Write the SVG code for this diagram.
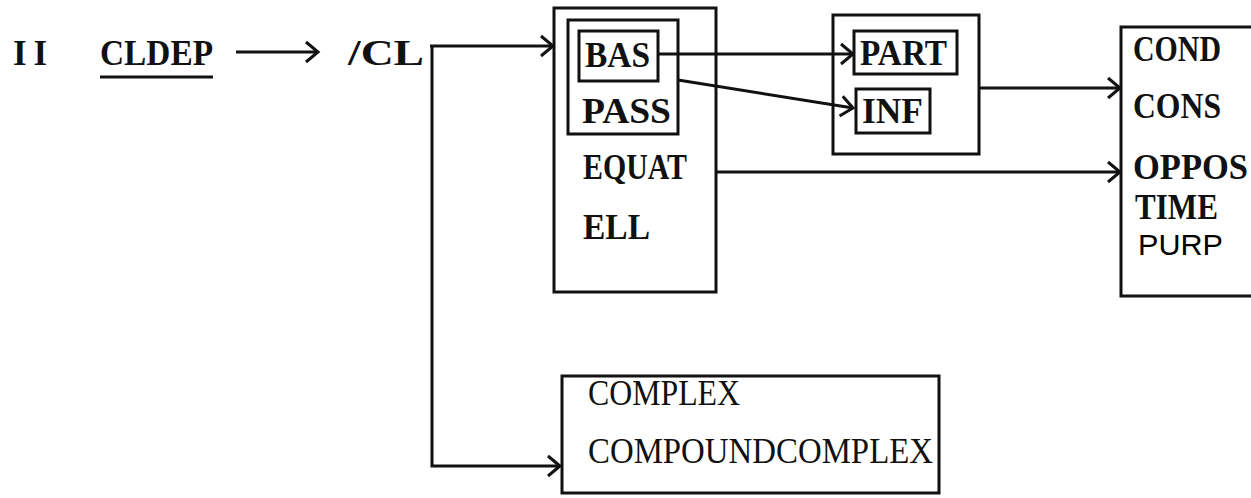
<svg xmlns="http://www.w3.org/2000/svg" width="1251" height="498" viewBox="0 0 1251 498">
<style>
.t{font-family:"Liberation Serif","Times New Roman",serif;font-size:35px;font-weight:bold;fill:#111}
.n{font-weight:normal}
.s{font-family:"Liberation Sans",Arial,sans-serif;font-size:29px;font-weight:normal}
.b{fill:none;stroke:#111;stroke-width:3}
.c{fill:none;stroke:#111;stroke-width:3}
</style>
<defs>
<marker id="ah" markerUnits="userSpaceOnUse" markerWidth="20" markerHeight="28" refX="14" refY="12" orient="auto">
<path d="M2,2 L14,12 L2,22" fill="none" stroke="#111" stroke-width="3"/>
</marker>
</defs>
<rect width="1251" height="498" fill="#fff"/>
<g id="title">
<text class="t" x="13" y="65" textLength="34" lengthAdjust="spacing">II</text>
<text class="t" x="100" y="65" textLength="113" lengthAdjust="spacingAndGlyphs">CLDEP</text>
<line class="c" x1="100" y1="77" x2="213" y2="77"/>
</g>
<g id="cl">
<text class="t" x="348" y="65" textLength="76" lengthAdjust="spacingAndGlyphs">/CL</text>
</g>
<g id="box-main">
<rect class="b" x="554" y="8" width="162" height="284"/>
<rect class="b" x="568" y="20" width="110" height="114"/>
<rect class="b" x="579" y="31" width="79" height="50"/>
<text class="t" x="585" y="67" textLength="65" lengthAdjust="spacingAndGlyphs">BAS</text>
<text class="t" x="582" y="123" textLength="89" lengthAdjust="spacingAndGlyphs">PASS</text>
<text class="t" x="583" y="179" textLength="104" lengthAdjust="spacingAndGlyphs">EQUAT</text>
<text class="t" x="583" y="239" textLength="67" lengthAdjust="spacingAndGlyphs">ELL</text>
</g>
<g id="box-part">
<rect class="b" x="833" y="15" width="146" height="139"/>
<rect class="b" x="854" y="31" width="103" height="43"/>
<rect class="b" x="856" y="89" width="74" height="44"/>
<text class="t" x="860" y="65" textLength="87" lengthAdjust="spacingAndGlyphs">PART</text>
<text class="t" x="862" y="123" textLength="61" lengthAdjust="spacingAndGlyphs">INF</text>
</g>
<g id="box-cond">
<path class="b" d="M1260,27 H1121 V296 H1260"/>
<text class="t" x="1133" y="61" textLength="88" lengthAdjust="spacingAndGlyphs">COND</text>
<text class="t" x="1133" y="118" textLength="88" lengthAdjust="spacingAndGlyphs">CONS</text>
<text class="t" x="1133" y="179" textLength="115" lengthAdjust="spacingAndGlyphs">OPPOS</text>
<text class="t" x="1135" y="219" textLength="83" lengthAdjust="spacingAndGlyphs">TIME</text>
<text class="s" x="1138" y="255" textLength="85" lengthAdjust="spacingAndGlyphs">PURP</text>
</g>
<g id="box-complex">
<rect class="b" x="562" y="376" width="377" height="117"/>
<text class="t n" x="588" y="405" textLength="152" lengthAdjust="spacingAndGlyphs">COMPLEX</text>
<text class="t n" x="588" y="463" textLength="345" lengthAdjust="spacingAndGlyphs">COMPOUNDCOMPLEX</text>
</g>
<g id="connectors">
<line class="c" x1="236" y1="52" x2="318" y2="52" marker-end="url(#ah)"/>
<path class="c" d="M432,46 V466 H560" marker-end="url(#ah)"/>
<line class="c" x1="430" y1="46" x2="553" y2="46" marker-end="url(#ah)"/>
<line class="c" x1="658" y1="54" x2="853" y2="54" marker-end="url(#ah)"/>
<line class="c" x1="678" y1="80" x2="853" y2="108" marker-end="url(#ah)"/>
<line class="c" x1="979" y1="88" x2="1120" y2="88" marker-end="url(#ah)"/>
<line class="c" x1="716" y1="172" x2="1120" y2="172" marker-end="url(#ah)"/>
</g>
</svg>
